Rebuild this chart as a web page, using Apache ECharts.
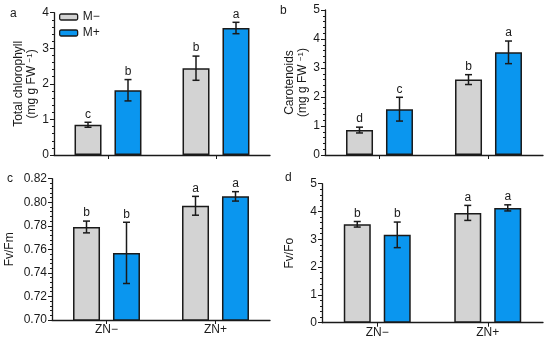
<!DOCTYPE html>
<html><head><meta charset="utf-8">
<script src="https://cdn.jsdelivr.net/npm/echarts@6/dist/echarts.min.js"></script>
<style>html,body{margin:0;padding:0;background:#fff}#c{width:550px;height:344px}</style>
</head><body><div id="c"></div>
<script>
const categories = ['ZN\u2212', 'ZN+'];
const groups = ['M\u2212', 'M+'];
// panel a: total chlorophyll
const chlMminus = [0.85, 2.44], chlMminusErr = [0.07, 0.34], chlMminusLet = ['c', 'b'];
const chlMplus = [1.82, 3.57], chlMplusErr = [0.30, 0.16], chlMplusLet = ['b', 'a'];
// panel b: carotenoids
const carMminus = [0.86, 2.60], carMminusErr = [0.10, 0.17], carMminusLet = ['d', 'b'];
const carMplus = [1.58, 3.54], carMplusErr = [0.41, 0.39], carMplusLet = ['c', 'a'];
// panel c: Fv/Fm
const fmMminus = [0.779, 0.797], fmMminusErr = [0.005, 0.008], fmMminusLet = ['b', 'a'];
const fmMplus = [0.757, 0.805], fmMplusErr = [0.026, 0.004], fmMplusLet = ['b', 'a'];
// panel d: Fv/Fo
const foMminus = [3.54, 3.95], foMminusErr = [0.10, 0.27], foMminusLet = ['b', 'a'];
const foMplus = [3.16, 4.13], foMplusErr = [0.46, 0.11], foMplusLet = ['b', 'a'];

const GRAY = '#d3d3d3', BLUE = '#0a96ef', EDGE = '#1a1a1a', TXT = '#1a1a1a';
const FONT = 'Liberation Sans, Arial, sans-serif';
const BW = 27, OFF = 20;

const chart = echarts.init(document.getElementById('c'), null, {renderer: 'canvas'});

const grids = [
  {left: 54, top: 12.7, width: 216, height: 142.3},
  {left: 325, top: 10, width: 218, height: 145},
  {left: 52, top: 178.7, width: 218, height: 141.3},
  {left: 322, top: 183.7, width: 221, height: 139}
];
const yCfg = [
  {min: 0, max: 4, interval: 1, name: ['Total chlorophyll', '(mg g FW {sup|\u22121})'], fmt: v => v.toFixed(0), gap: 15},
  {min: 0, max: 5, interval: 1, name: ['Carotenoids', '(mg g FW {sup|\u22121})'], fmt: v => v.toFixed(0), gap: 14},
  {min: 0.70, max: 0.82, interval: 0.02, name: ['Fv/Fm'], fmt: v => v.toFixed(2), gap: 36},
  {min: 0, max: 5, interval: 1, name: ['Fv/Fo'], fmt: v => v.toFixed(0), gap: 26}
];
const panels = [
  [chlMminus, chlMminusErr, chlMminusLet, chlMplus, chlMplusErr, chlMplusLet],
  [carMminus, carMminusErr, carMminusLet, carMplus, carMplusErr, carMplusLet],
  [fmMminus, fmMminusErr, fmMminusLet, fmMplus, fmMplusErr, fmMplusLet],
  [foMminus, foMminusErr, foMminusLet, foMplus, foMplusErr, foMplusLet]
];

const xAxis = [], yAxis = [], series = [];
grids.forEach((g, i) => {
  xAxis.push({
    type: 'category', gridIndex: i, data: categories,
    axisLine: {lineStyle: {color: EDGE, width: 1.3}},
    axisTick: {show: true, alignWithLabel: true, length: 4, lineStyle: {color: EDGE}},
    axisLabel: {show: i >= 2, color: TXT, fontFamily: FONT, fontSize: 12, margin: 4},
    splitLine: {show: false}
  });
  const c = yCfg[i];
  yAxis.push({
    type: 'value', gridIndex: i, min: c.min, max: c.max, interval: c.interval,
    name: c.name.join('\n'), nameLocation: 'middle', nameGap: c.gap, nameRotate: 90,
    nameTextStyle: {color: TXT, fontFamily: FONT, fontSize: 12, lineHeight: 13,
      rich: {sup: {fontSize: 8, verticalAlign: 'top', fontFamily: FONT, color: TXT, lineHeight: 10}}},
    axisLine: {show: true, lineStyle: {color: EDGE, width: 1.3}},
    axisTick: {show: true, length: 4, lineStyle: {color: EDGE}},
    minorTick: {show: true, splitNumber: 5, length: 2, lineStyle: {color: EDGE}},
    axisLabel: {color: TXT, fontFamily: FONT, fontSize: 12, margin: 5, formatter: c.fmt},
    splitLine: {show: false}
  });
  const p = panels[i];
  [[p[0], p[1], p[2], GRAY, -OFF, groups[0]], [p[3], p[4], p[5], BLUE, OFF, groups[1]]].forEach(s => {
    const [vals, errs, lets, color, off, nm] = s;
    series.push({
      type: 'bar', name: nm, xAxisIndex: i, yAxisIndex: i, data: vals,
      barWidth: BW, barGap: '48%',
      itemStyle: {color: color, borderColor: EDGE, borderWidth: 1.5},
      clip: true, silent: true
    });
    series.push({
      type: 'custom', xAxisIndex: i, yAxisIndex: i,
      data: vals.map((v, k) => [k, v - errs[k], v + errs[k], lets[k]]),
      renderItem: (params, api) => {
        const lo = api.coord([api.value(0), api.value(1)]);
        const hi = api.coord([api.value(0), api.value(2)]);
        const x = lo[0] + off, cw = 3.5;
        const st = {stroke: EDGE, lineWidth: 1.5};
        return {type: 'group', children: [
          {type: 'line', shape: {x1: x, y1: lo[1], x2: x, y2: hi[1]}, style: st},
          {type: 'line', shape: {x1: x - cw, y1: lo[1], x2: x + cw, y2: lo[1]}, style: st},
          {type: 'line', shape: {x1: x - cw, y1: hi[1], x2: x + cw, y2: hi[1]}, style: st},
          {type: 'text', x: x, y: hi[1] - 2, style: {text: lets[params.dataIndex], fill: TXT,
            font: '12px ' + FONT, textAlign: 'center', textVerticalAlign: 'bottom'}}
        ]};
      },
      z: 5, silent: true
    });
  });
});

chart.setOption({
  animation: false,
  grid: grids,
  xAxis: xAxis, yAxis: yAxis, series: series,
  legend: {
    data: groups, orient: 'vertical', left: 59, top: 11, itemWidth: 18, itemHeight: 6, itemGap: 4,
    textStyle: {color: TXT, fontFamily: FONT, fontSize: 12, padding: [0, 0, 0, 0]},
    itemStyle: {borderColor: EDGE, borderWidth: 1.3}, padding: 0, selectedMode: false
  },
  graphic: [
    {type: 'text', left: 10, top: 8, style: {text: 'a', font: '12px ' + FONT, fill: TXT}},
    {type: 'text', left: 280, top: 5, style: {text: 'b', font: '12px ' + FONT, fill: TXT}},
    {type: 'text', left: 7, top: 173, style: {text: 'c', font: '12px ' + FONT, fill: TXT}},
    {type: 'text', left: 285, top: 172, style: {text: 'd', font: '12px ' + FONT, fill: TXT}}
  ]
});
</script></body></html>
